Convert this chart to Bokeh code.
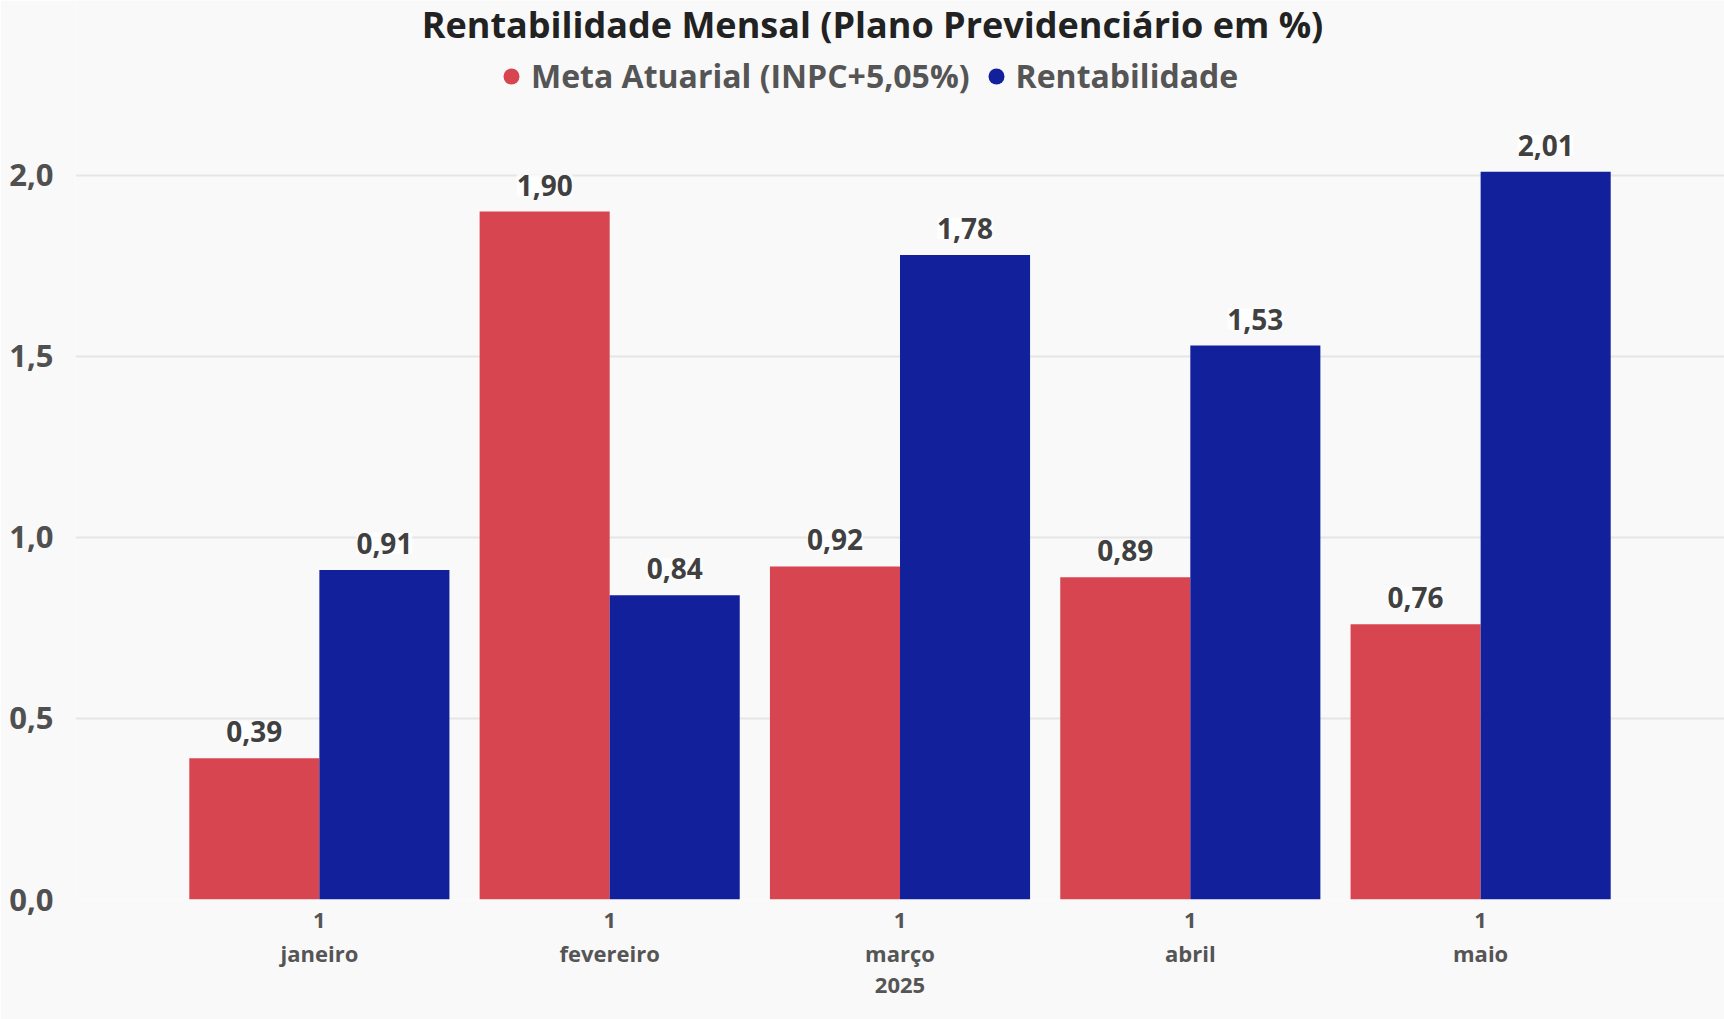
from bokeh.plotting import figure
from bokeh.models import (ColumnDataSource, FactorRange, FixedTicker, CustomJSTickFormatter,
                          LabelSet, Legend, LegendItem, Label)
from bokeh.transform import dodge
from bokeh.core.properties import value
from bokeh.embed import file_html
from bokeh.resources import INLINE

# ---- data ----
year = "2025"
months = ["janeiro", "fevereiro", "março", "abril", "maio"]
day = "1"
meta = [0.39, 1.90, 0.92, 0.89, 0.76]
rent = [0.91, 0.84, 1.78, 1.53, 2.01]
series_names = ["Meta Atuarial (INPC+5,05%)", "Rentabilidade"]
y_ticks = [0.0, 0.5, 1.0, 1.5, 2.0]
title_text = "Rentabilidade Mensal (Plano Previdenciário em %)"

RED = "#D64550"
BLUE = "#13209B"
BG = "#F9F9F9"
FONT = "Open Sans"

def fmt(v):
    return f"{v:.2f}".replace(".", ",")

x = [(year, m, day) for m in months]
src = ColumnDataSource(dict(x=x, meta=meta, rent=rent,
                            meta_lbl=[fmt(v) for v in meta],
                            rent_lbl=[fmt(v) for v in rent]))

xr = FactorRange(*x, group_padding=0, subgroup_padding=0, factor_padding=0,
                 range_padding=0.34, range_padding_units="absolute")

p = figure(x_range=xr, y_range=(0, 2.483), width=1724, height=1019,
           output_backend="svg", toolbar_location=None,
           min_border_left=75, min_border_right=0, min_border_top=0, min_border_bottom=120,
           background_fill_color=BG, border_fill_color=BG, outline_line_color=None)

off = 0.224
w = 0.448
r1 = p.vbar(x=dodge("x", -off, range=xr), top="meta", width=w, source=src,
            fill_color=RED, line_color=None)
r2 = p.vbar(x=dodge("x", off, range=xr), top="rent", width=w, source=src,
            fill_color=BLUE, line_color=None)

# marker renderers (size 0) so the legend shows circles
m1 = p.scatter(x=dodge("x", -off, range=xr), y="meta", size=0, source=src,
               fill_color=RED, line_color=None)
m2 = p.scatter(x=dodge("x", off, range=xr), y="rent", size=0, source=src,
               fill_color=BLUE, line_color=None)

for col, lbl, o in (("meta", "meta_lbl", -off), ("rent", "rent_lbl", off)):
    ls = LabelSet(x=dodge("x", o, range=xr), y=col, text=lbl, source=src,
                  y_offset=16, text_align="center", text_baseline="bottom",
                  text_font=value(FONT), text_font_size="28px", text_font_style="bold",
                  text_color="#404040", background_fill_color="#FFFFFF",
                  background_fill_alpha=0.75)
    p.add_layout(ls)

legend = Legend(items=[LegendItem(label=series_names[0], renderers=[m1]),
                       LegendItem(label=series_names[1], renderers=[m2])],
                orientation="horizontal", location=(416, 802),
                padding=0, spacing=6, label_standoff=0,
                glyph_width=40, glyph_height=40,
                label_text_font=FONT, label_text_font_size="32px",
                label_text_font_style="bold", label_text_color="#555555",
                background_fill_alpha=0, border_line_color=None)
p.add_layout(legend, "center")

title = Label(x=797, y=875, x_units="screen", y_units="screen", text=title_text,
              text_align="center", text_baseline="middle",
              text_font=FONT, text_font_size="36px", text_font_style="bold",
              text_color="#222222")
p.add_layout(title)

# y axis
p.yaxis.ticker = FixedTicker(ticks=y_ticks)
p.yaxis.formatter = CustomJSTickFormatter(code="return tick.toFixed(1).replace('.', ',');")
p.yaxis.axis_line_color = None
p.yaxis.major_tick_line_color = None
p.yaxis.minor_tick_line_color = None
p.yaxis.major_label_standoff = 16
p.yaxis.major_label_text_font = FONT
p.yaxis.major_label_text_font_size = "31px"
p.yaxis.major_label_text_font_style = "bold"
p.yaxis.major_label_text_color = "#505050"

# x axis
xa = p.xaxis[0]
xa.axis_line_color = None
xa.major_tick_line_color = None
xa.minor_tick_line_color = None
xa.separator_line_color = "#EBEBEB"
xa.separator_line_width = 1
xa.major_label_standoff = 7
xa.major_label_text_font = FONT
xa.major_label_text_font_size = "22px"
xa.major_label_text_font_style = "bold"
xa.major_label_text_color = "#555555"
xa.major_label_orientation = "horizontal"
xa.subgroup_text_font = FONT
xa.subgroup_text_font_size = "22px"
xa.subgroup_text_font_style = "bold"
xa.subgroup_text_color = "#555555"
xa.group_text_font = FONT
xa.group_text_font_size = "22px"
xa.group_text_font_style = "bold"
xa.group_text_color = "#555555"

p.xgrid.grid_line_color = None
p.ygrid.grid_line_color = "#E6E6E6"
p.ygrid.grid_line_width = 2

open("out.html", "w").write(file_html(p, INLINE))
